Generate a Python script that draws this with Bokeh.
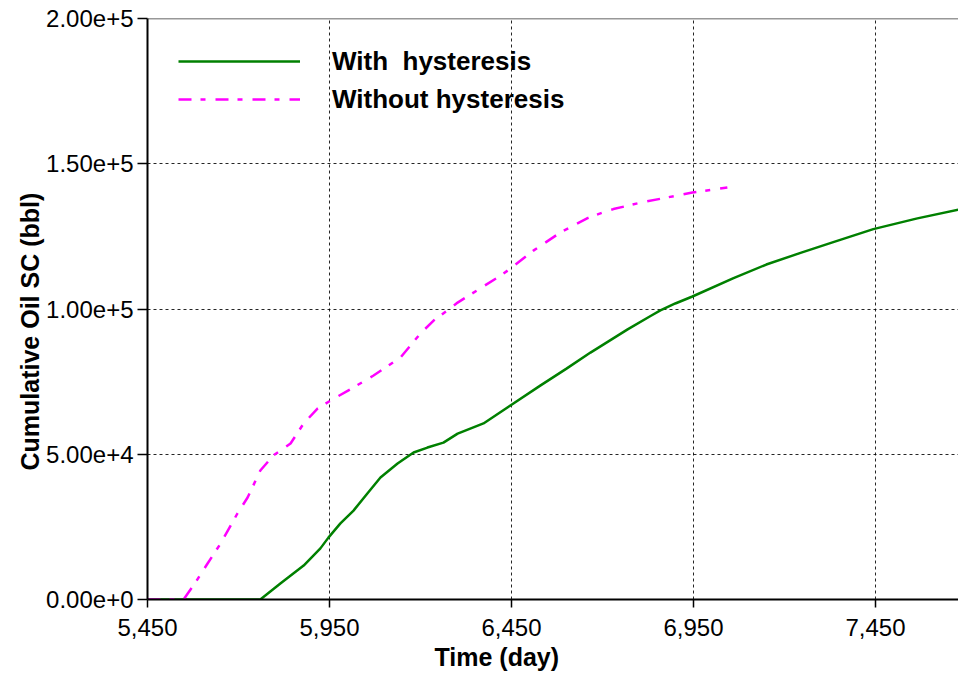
from bokeh.plotting import figure
from bokeh.models import (Range1d, FixedTicker, Legend, LegendItem, Span, Title)
from bokeh.embed import file_html
from bokeh.resources import INLINE

# ---- data ----
with_days = [5450, 5760, 5815, 5879, 5925, 5947, 5980, 6016, 6054, 6090, 6137, 6181,
             6219, 6263, 6302, 6373, 6447, 6530, 6600, 6667, 6769, 6832, 6859, 6900,
             6947, 7060, 7150, 7244, 7334, 7444, 7565, 7678]
with_oil = [0, 0, 5500, 11700, 17600, 21300, 26200, 30600, 36500, 42000, 46800, 50600,
            52300, 54000, 57100, 60600, 66800, 73700, 79400, 85000, 93000, 97600, 99500,
            101900, 104300, 110600, 115300, 119300, 123000, 127500, 131200, 134200]

without_days = [5450, 5549, 5580, 5615, 5651, 5697, 5725, 5760, 5796, 5843, 5879, 5917,
                5953, 6016, 6071, 6145, 6200, 6236, 6302, 6420, 6447, 6510, 6584, 6659,
                6700, 6730, 6804, 6878, 6947, 7043]
without_oil = [0, 0, 5500, 12400, 19300, 29600, 35100, 44400, 49600, 53700, 60600, 65700,
               68500, 73000, 77100, 83300, 91600, 96000, 102200, 111500, 113900, 120100,
               126300, 131300, 133200, 134400, 136600, 138400, 140100, 141800]

x_ticks = [5450, 5950, 6450, 6950, 7450]
x_tick_labels = ["5,450", "5,950", "6,450", "6,950", "7,450"]
y_ticks = [0, 50000, 100000, 150000, 200000]
y_tick_labels = ["0.00e+0", "5.00e+4", "1.00e+5", "1.50e+5", "2.00e+5"]

series_names = ["With  hysteresis", "Without hysteresis"]
x_title = "Time (day)"
y_title = "Cumulative Oil SC (bbl)"

FONT = "Liberation Sans"

p = figure(width=958, height=675, output_backend="svg", toolbar_location=None,
           x_range=Range1d(5450, 7678), y_range=Range1d(0, 200000),
           min_border_left=147, min_border_right=0, min_border_top=18,
           min_border_bottom=76)
p.background_fill_color = "white"
p.border_fill_color = "white"
p.outline_line_color = None

g = p.line(with_days, with_oil, line_color="#008000", line_width=2.5)
m = p.line(without_days, without_oil, line_color="#FF00FF", line_width=2.5,
           line_dash="13 9 5 10")

# axes
for ax in (p.xaxis[0], p.yaxis[0]):
    ax.axis_line_color = "black"
    ax.axis_line_width = 2
    ax.major_tick_line_color = "black"
    ax.major_tick_line_width = 1.5
    ax.major_tick_in = 0
    ax.minor_tick_line_color = None
    ax.major_label_text_font = FONT
    ax.major_label_text_font_size = "24px"
    ax.major_label_text_color = "black"

p.xaxis[0].ticker = FixedTicker(ticks=x_ticks)
p.xaxis[0].major_label_overrides = dict(zip(x_ticks, x_tick_labels))
p.xaxis[0].major_tick_out = 8
p.xaxis[0].major_label_standoff = 11

p.yaxis[0].ticker = FixedTicker(ticks=y_ticks)
p.yaxis[0].major_label_overrides = dict(zip(y_ticks, y_tick_labels))
p.yaxis[0].major_tick_out = 10
p.yaxis[0].major_label_standoff = 4

for gr in (p.xgrid[0], p.ygrid[0]):
    gr.grid_line_color = "black"
    gr.grid_line_alpha = 0.85
    gr.grid_line_width = 1
    gr.grid_line_dash = "3 3"

# top frame border
p.add_layout(Span(location=200000, dimension="width", line_color="#333333",
                  line_width=1.5))

# axis titles
p.add_layout(Title(text=x_title, align="left", offset=287, standoff=5,
                   text_font=FONT, text_font_size="25px", text_font_style="bold",
                   text_color="black"), "below")
p.add_layout(Title(text=y_title, align="left", offset=129, standoff=0,
                   text_font=FONT, text_font_size="25px", text_font_style="bold",
                   text_color="black"), "left")

# legend
legend = Legend(items=[LegendItem(label=series_names[0], renderers=[g]),
                       LegendItem(label=series_names[1], renderers=[m])],
                location=(31, 481), orientation="vertical",
                glyph_width=122, glyph_height=38, label_height=38, spacing=0,
                label_standoff=32, padding=0, margin=0,
                border_line_color=None, background_fill_alpha=0,
                label_text_font=FONT, label_text_font_size="26px",
                label_text_font_style="bold", label_text_color="black")
p.add_layout(legend, "center")

open("out.html", "w").write(file_html(p, INLINE))
